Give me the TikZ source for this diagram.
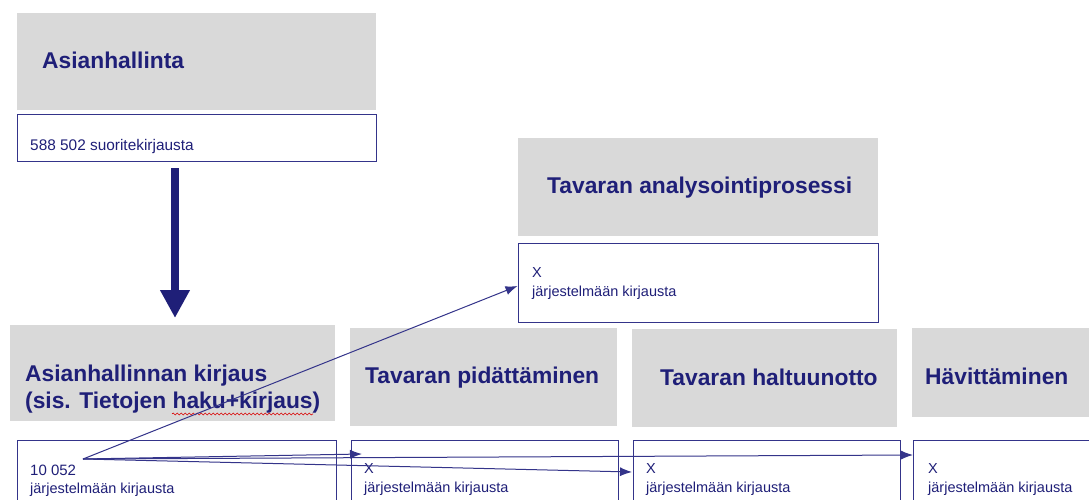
\documentclass[tikz,border=0pt]{standalone}
\usepackage{fontspec}
\setmainfont{Liberation Sans}
\usetikzlibrary{arrows.meta,decorations.pathmorphing}
\definecolor{navy}{HTML}{1F1F78}
\definecolor{edge}{HTML}{34348A}
\definecolor{panel}{HTML}{D9D9D9}
\begin{document}
\begin{tikzpicture}[x=1pt,y=-1pt,
  greybox/.style={rectangle,fill=panel,draw=none,inner sep=0pt},
  whitebox/.style={rectangle,fill=white,draw=edge,line width=1pt,inner sep=0pt},
  title/.style={anchor=base west,inner sep=0pt,text=navy,font=\fontsize{22.8}{27}\selectfont\bfseries},
  small/.style={anchor=base west,inner sep=0pt,text=navy,font=\fontsize{14.5}{18}\selectfont},
  link/.style={draw=edge,line width=1pt,-{Latex[length=12pt,width=9pt]}},
  bigarrow/.style={draw=navy,line width=8pt,-{Triangle[length=28pt,width=28pt]}}]
\clip (0,0) rectangle (1089,500);
\fill[white] (0,0) rectangle (1089,500);

% top: case management
\node[greybox,minimum width=359pt,minimum height=97pt] (g1) at (196.5,61.5) {};
\node[title] (t1) at (42,69) {Asianhallinta};
\node[whitebox,minimum width=359pt,minimum height=46pt] (w1) at (196.5,138) {};
\node[small,font=\fontsize{15.4}{18}\selectfont] (s1) at (30,150) {588 502 suoritekirjausta};

% analysis process
\node[greybox,minimum width=360pt,minimum height=98pt] (g2) at (698,187) {};
\node[title] (t2) at (547,193) {Tavaran analysointiprosessi};
\node[whitebox,minimum width=360pt,minimum height=79pt] (w2) at (698,282.5) {};
\node[small] (x2) at (532,277) {X};
\node[small] (s2) at (532,296) {järjestelmään kirjausta};

% middle row headers
\node[greybox,minimum width=325pt,minimum height=96pt] (g3) at (172.5,373) {};
\node[title] (t3a) at (25,381) {Asianhallinnan kirjaus};
\node[title] (t3b) at (25,408) {(sis. Tietojen haku+kirjaus)};
\draw[red!85!black,line width=0.6pt,decorate,decoration={snake,segment length=4pt,amplitude=1pt}]
  (172,414) coordinate (u1) -- (313,414) coordinate (u2);

\node[greybox,minimum width=267pt,minimum height=98pt] (g4) at (483.5,377) {};
\node[title] (t4) at (365,383) {Tavaran pidättäminen};
\node[greybox,minimum width=265pt,minimum height=98pt] (g5) at (764.5,378) {};
\node[title] (t5) at (660,385) {Tavaran haltuunotto};
\node[greybox,minimum width=183pt,minimum height=89pt] (g6) at (1003.5,372.5) {};
\node[title] (t6) at (925,384) {Hävittäminen};

% bottom row counters
\node[whitebox,minimum width=319pt,minimum height=70pt] (w3) at (176.5,475) {};
\node[small,font=\fontsize{15}{18}\selectfont] (x3) at (30,475) {10 052};
\node[small] (s3) at (30,493) {järjestelmään kirjausta};
\node[whitebox,minimum width=267pt,minimum height=70pt] (w4) at (484.5,475) {};
\node[small] (x4) at (364,473) {X};
\node[small] (s4) at (364,492) {järjestelmään kirjausta};
\node[whitebox,minimum width=267pt,minimum height=70pt] (w5) at (766.5,475) {};
\node[small] (x5) at (646,473) {X};
\node[small] (s5) at (646,492) {järjestelmään kirjausta};
\node[whitebox,minimum width=187pt,minimum height=70pt] (w6) at (1006.5,475) {};
\node[small] (x6) at (928,473) {X};
\node[small] (s6) at (928,492) {järjestelmään kirjausta};

% flow arrows
\coordinate (bigA) at (175,168);
\coordinate (bigB) at (175,318);
\draw[bigarrow] (bigA) -- (bigB);

\coordinate (src) at (83,459);
\coordinate (in2) at (517.5,286);
\coordinate (in4) at (362,454);
\coordinate (in5) at (632,472);
\coordinate (in6) at (913,455);
\draw[link] (src) -- (in2);
\draw[link] (src) -- (in4);
\draw[link] (src) -- (in5);
\draw[link] (src) -- (in6);
\end{tikzpicture}
\end{document}
